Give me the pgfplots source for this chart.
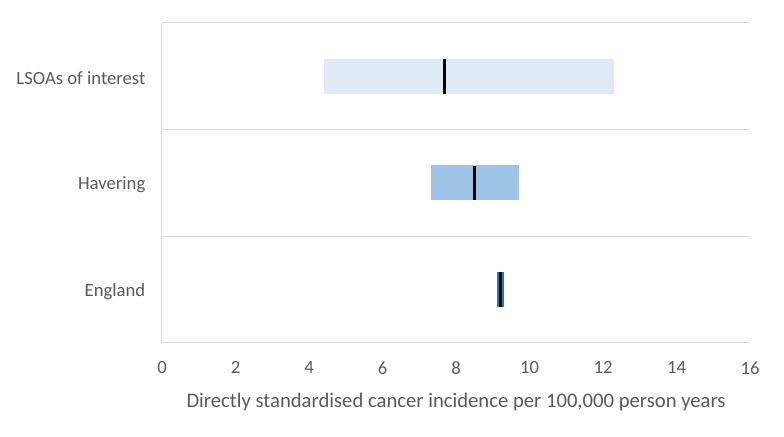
\documentclass[border=0pt]{standalone}
\usepackage{pgfplots}
\pgfplotsset{compat=1.18}
\usepackage{fontspec}
\setmainfont{Carlito}
\definecolor{gridc}{HTML}{D9D9D9}
\definecolor{txt}{HTML}{595959}
\definecolor{lsoa}{HTML}{DEEBF7}
\definecolor{hav}{HTML}{9DC3E6}
\definecolor{eng}{HTML}{2E75B6}
\begin{document}
\begin{tikzpicture}
\begin{axis}[
  scale only axis, width=441pt, height=240pt,
  xmin=0, xmax=16, ymin=0, ymax=3,
  xtick={0,2,...,16},
  ytick={0.5,1.5,2.5},
  yticklabels={England,Havering,LSOAs of interest},
  minor ytick={0,1,2,3},
  yminorgrids,
  minor grid style={gridc, line width=0.75pt},
  axis lines*=left,
  axis line style={gridc, line width=0.75pt},
  major tick length=0, minor tick length=0,
  tick label style={font=\fontsize{14}{16}\selectfont, text=txt},
  xticklabel style={yshift=-10.5pt},
  yticklabel style={xshift=-9pt, yshift=-1.5pt},
  xlabel={Directly standardised cancer incidence per 100,000 person years},
  xlabel style={font=\fontsize{15.5}{17}\selectfont, text=txt, yshift=-7pt},
  /pgf/number format/assume math mode=true,
  clip=false,
]
\addplot[draw=lsoa, line width=26.25pt] coordinates {(4.41,2.5) (12.30,2.5)};
\addplot[draw=hav, line width=26.25pt] coordinates {(7.32,1.5) (9.71,1.5)};
\addplot[draw=eng, line width=26.25pt] coordinates {(9.12,0.5) (9.31,0.5)};
\addplot[only marks, mark=|, mark size=13.1pt, mark options={line width=2.25pt, draw=black}]
  coordinates {(7.70,2.5) (8.49,1.5) (9.21,0.5)};
\end{axis}
\path[use as bounding box] (current axis.south west) ++(-121.5pt,-70.5pt)
  rectangle ([shift={(25.5pt,17.25pt)}]current axis.north east);
\end{tikzpicture}
\end{document}
